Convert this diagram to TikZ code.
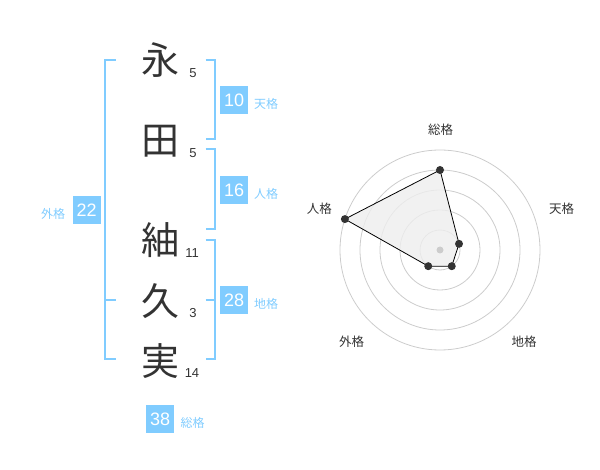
\documentclass[tikz,border=0pt]{standalone}
\usepackage{fontspec}
\setmainfont{Noto Sans CJK JP}
\newfontfamily\numfont{Liberation Sans}
\usetikzlibrary{calc}
\definecolor{sky}{HTML}{80CCFF}
\definecolor{ink}{HTML}{333333}
\definecolor{ringgray}{HTML}{CCCCCC}
\definecolor{areafill}{HTML}{EEEEEE}
\begin{document}
\begin{tikzpicture}[x=1pt,y=-1pt,
  kanji/.style={font=\fontsize{38}{38}\selectfont, text=ink, inner sep=0pt},
  strokenum/.style={font=\numfont\fontsize{13}{13}\selectfont, text=ink, inner sep=0pt},
  badge/.style={fill=sky, text=white, minimum size=28pt, inner sep=0pt, font=\numfont\fontsize{18}{18}\selectfont},
  badgelabel/.style={text=sky, font=\fontsize{12}{12}\selectfont, inner sep=0pt},
  bracketline/.style={draw=sky, line width=2pt},
  ring/.style={draw=ringgray, line width=0.8pt},
  axislabel/.style={text=ink, font=\fontsize{12.5}{12.5}\selectfont, inner sep=0pt},
  datadot/.style={circle, fill=ink, inner sep=0pt, minimum size=8pt},
]
\useasboundingbox (0,0) rectangle (600,470);

% ---- name characters ----
\node[kanji] (k1) at (160,60) {永};
\node[kanji] (k2) at (160,141) {田};
\node[kanji] (k3) at (160,240) {紬};
\node[kanji] (k4) at (160,301) {久};
\node[kanji] (k5) at (160,361) {実};

\node[strokenum] (s1) at (193,72.7) {5};
\node[strokenum] (s2) at (193,152.7) {5};
\node[strokenum] (s3) at (192,253.3) {11};
\node[strokenum] (s4) at (193,313.3) {3};
\node[strokenum] (s5) at (192,373.3) {14};

% ---- brackets ----
\draw[bracketline] (115.7,60) -- (105.3,60) -- (105.3,359.3) -- (115.7,359.3);
\draw[bracketline] (105.3,300) -- (115.7,300);

\draw[bracketline] (205.5,60) -- (215,60) -- (215,139.3) -- (205.5,139.3);
\draw[bracketline] (205.5,149.3) -- (215,149.3) -- (215,229.3) -- (205.5,229.3);
\draw[bracketline] (205.5,240) -- (215,240) -- (215,359.3) -- (205.5,359.3);
\draw[bracketline] (205.5,300) -- (215,300);

% ---- badges ----
\node[badge] (ten) at (234.2,100.2) {10};
\node[badgelabel] (tenl) at (266,104) {天格};
\node[badge] (jin) at (234.2,190.2) {16};
\node[badgelabel] (jinl) at (266,194) {人格};
\node[badge] (chi) at (234.2,300.2) {28};
\node[badgelabel] (chil) at (266,304) {地格};
\node[badge] (gai) at (86.7,210.2) {22};
\node[badgelabel] (gail) at (53,214) {外格};
\node[badge] (sou) at (160.2,419.2) {38};
\node[badgelabel] (soul) at (192.5,423) {総格};

% ---- radar chart ----
\coordinate (c) at (440,250);
\foreach \r in {20,40,60,80,100}
  \draw[ring] (c) circle[radius=\r pt];

\coordinate (p1) at ($(c)+(90:80pt)$);
\coordinate (p2) at ($(c)+(18:20pt)$);
\coordinate (p3) at ($(c)+(-54:20pt)$);
\coordinate (p4) at ($(c)+(-126:20pt)$);
\coordinate (p5) at ($(c)+(162:100pt)$);

\fill[areafill, fill opacity=0.8] (p1) -- (p2) -- (p3) -- (p4) -- (p5) -- cycle;
\draw[black, line width=0.8pt, line join=round] (p1) -- (p2) -- (p3) -- (p4) -- (p5) -- cycle;
\node[circle, fill=ringgray, inner sep=0pt, minimum size=7pt] (cdot) at (c) {};
\foreach \i in {1,...,5}
  \node[datadot] (d\i) at (p\i) {};

\node[axislabel] (a1) at (440.7,130) {総格};
\node[axislabel] (a2) at (561.7,208.3) {天格};
\node[axislabel] (a3) at (524,341.7) {地格};
\node[axislabel] (a4) at (351.7,341.7) {外格};
\node[axislabel] (a5) at (319.3,208.3) {人格};
\end{tikzpicture}
\end{document}
